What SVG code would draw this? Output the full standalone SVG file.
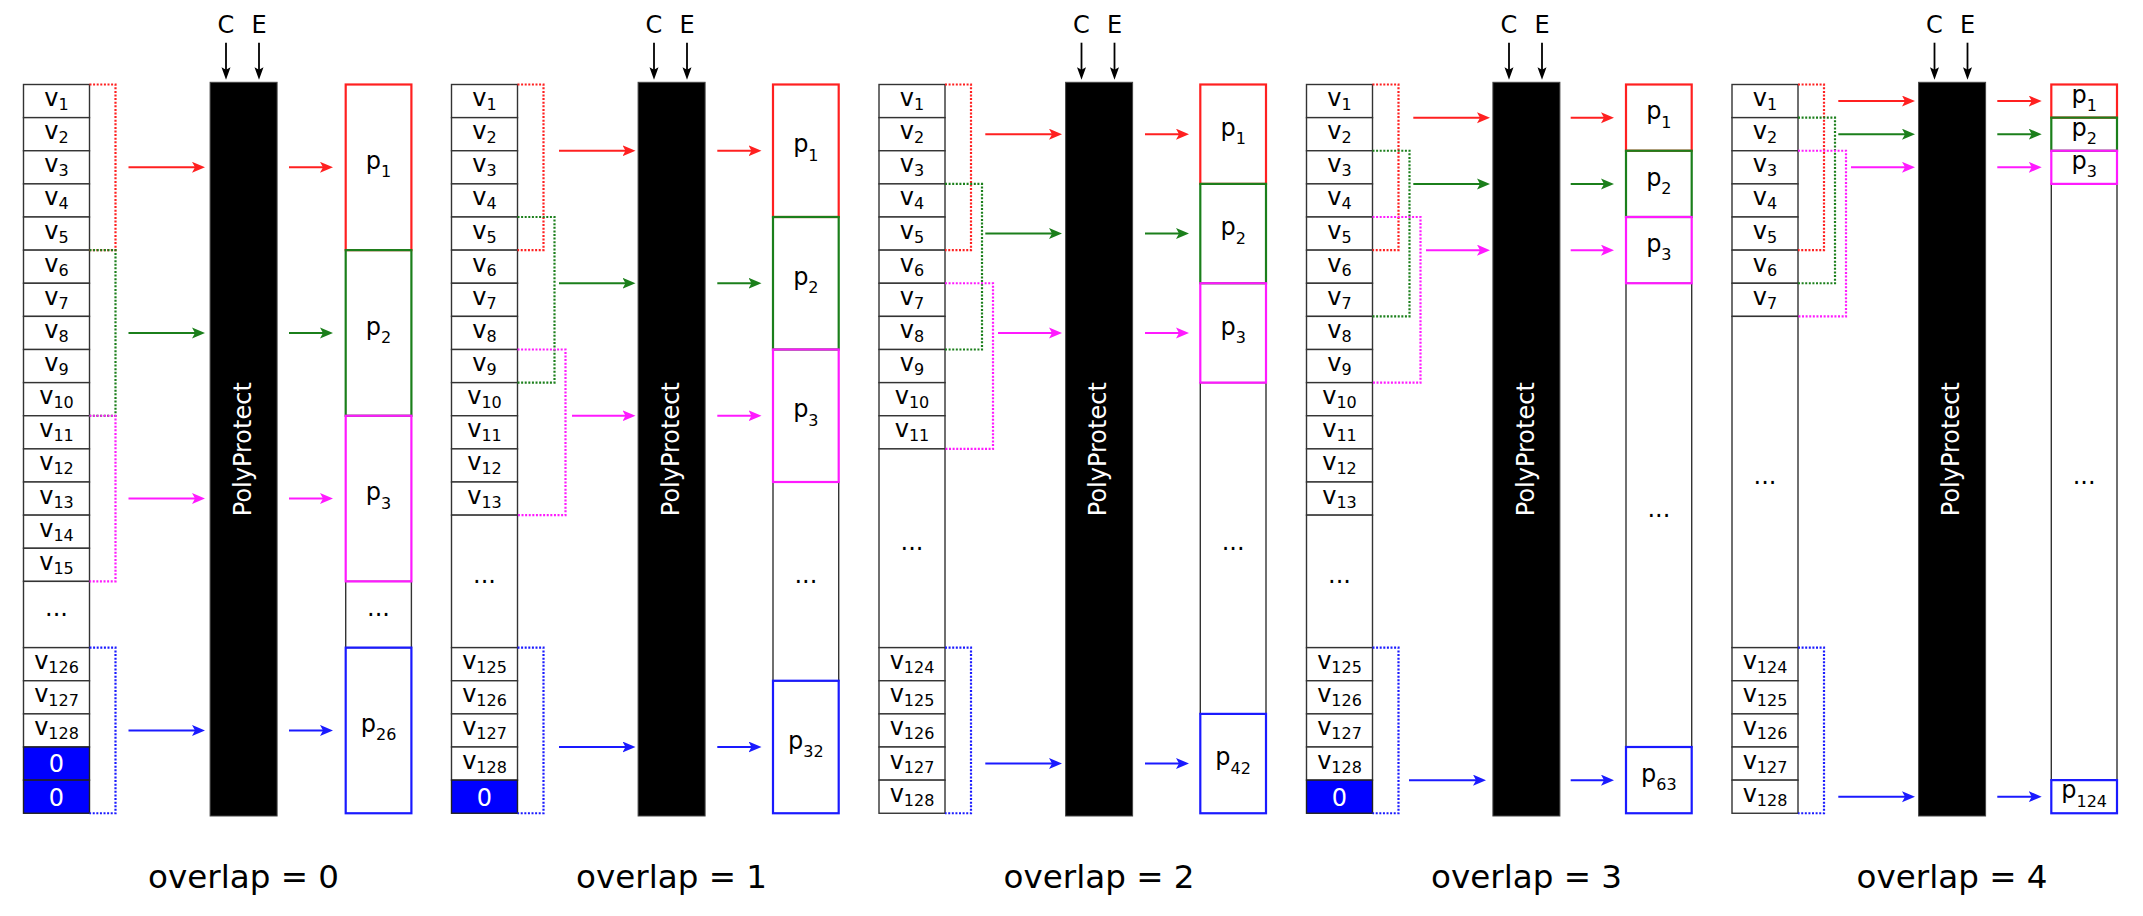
<svg xmlns="http://www.w3.org/2000/svg" width="2143" height="916" viewBox="0 0 2143 916">
<style>
text{font-family:"DejaVu Sans","Liberation Sans",sans-serif}
.c{fill:#fff;stroke:#333;stroke-width:1.4}
.z{fill:#0000ff;stroke:#222;stroke-width:1.4}
.l{font-size:24px;text-anchor:middle;fill:#000}
.zt{font-size:24px;text-anchor:middle;fill:#fff}
.s{font-size:16px}
.bar{fill:#000;stroke:#444;stroke-width:1}
.bt{font-size:24px;text-anchor:middle;fill:#fff}
.t{font-size:32px;text-anchor:middle;fill:#000}
.pr{fill:none;stroke:#ff2020;stroke-width:2.2}
.pg{fill:none;stroke:#1b7f1b;stroke-width:2.2}
.pm{fill:none;stroke:#ff1aff;stroke-width:2.2}
.pb{fill:none;stroke:#1a1aff;stroke-width:2.2}
.pd{fill:#fff;stroke:#333;stroke-width:1.4}
.d{fill:none;stroke-width:2.2;stroke-dasharray:2 1.6}
.a{fill:none;stroke-width:2}
.k{fill:none;stroke:#000;stroke-width:1.8}
.R{stroke:#ff2020}.G{stroke:#1b7f1b}.M{stroke:#ff1aff}.B{stroke:#1a1aff}
</style>
<defs>
<marker id="mr" markerUnits="userSpaceOnUse" markerWidth="14" markerHeight="12" refX="7" refY="5.5" orient="auto"><path d="M0,0 L13,5.5 L0,11 L3,5.5 z" fill="#ff2020"/></marker>
<marker id="mg" markerUnits="userSpaceOnUse" markerWidth="14" markerHeight="12" refX="7" refY="5.5" orient="auto"><path d="M0,0 L13,5.5 L0,11 L3,5.5 z" fill="#1b7f1b"/></marker>
<marker id="mm" markerUnits="userSpaceOnUse" markerWidth="14" markerHeight="12" refX="7" refY="5.5" orient="auto"><path d="M0,0 L13,5.5 L0,11 L3,5.5 z" fill="#ff1aff"/></marker>
<marker id="mb" markerUnits="userSpaceOnUse" markerWidth="14" markerHeight="12" refX="7" refY="5.5" orient="auto"><path d="M0,0 L13,5.5 L0,11 L3,5.5 z" fill="#1a1aff"/></marker>
<marker id="mk" markerUnits="userSpaceOnUse" markerWidth="13" markerHeight="10" refX="6" refY="4.5" orient="auto"><path d="M0,0 L12.5,4.5 L0,9 L2.5,4.5 z" fill="#000"/></marker>
</defs>
<rect width="2143" height="916" fill="#fff"/>

<!-- ================= PANEL 0 ================= -->
<g id="panel0" transform="translate(23.5,84.5)">
<g id="p0-v1"><rect class="c" x="0" y="0" width="66" height="33.13"/><text class="l" x="33" y="21.6">v<tspan class="s" dy="4">1</tspan></text></g>
<g id="p0-v2"><rect class="c" x="0" y="33.13" width="66" height="33.13"/><text class="l" x="33" y="54.73">v<tspan class="s" dy="4">2</tspan></text></g>
<g id="p0-v3"><rect class="c" x="0" y="66.25" width="66" height="33.13"/><text class="l" x="33" y="87.85">v<tspan class="s" dy="4">3</tspan></text></g>
<g id="p0-v4"><rect class="c" x="0" y="99.38" width="66" height="33.13"/><text class="l" x="33" y="120.98">v<tspan class="s" dy="4">4</tspan></text></g>
<g id="p0-v5"><rect class="c" x="0" y="132.5" width="66" height="33.13"/><text class="l" x="33" y="154.1">v<tspan class="s" dy="4">5</tspan></text></g>
<g id="p0-v6"><rect class="c" x="0" y="165.63" width="66" height="33.13"/><text class="l" x="33" y="187.23">v<tspan class="s" dy="4">6</tspan></text></g>
<g id="p0-v7"><rect class="c" x="0" y="198.75" width="66" height="33.13"/><text class="l" x="33" y="220.35">v<tspan class="s" dy="4">7</tspan></text></g>
<g id="p0-v8"><rect class="c" x="0" y="231.88" width="66" height="33.13"/><text class="l" x="33" y="253.48">v<tspan class="s" dy="4">8</tspan></text></g>
<g id="p0-v9"><rect class="c" x="0" y="265" width="66" height="33.13"/><text class="l" x="33" y="286.6">v<tspan class="s" dy="4">9</tspan></text></g>
<g id="p0-v10"><rect class="c" x="0" y="298.13" width="66" height="33.13"/><text class="l" x="33" y="319.73">v<tspan class="s" dy="4">10</tspan></text></g>
<g id="p0-v11"><rect class="c" x="0" y="331.25" width="66" height="33.13"/><text class="l" x="33" y="352.85">v<tspan class="s" dy="4">11</tspan></text></g>
<g id="p0-v12"><rect class="c" x="0" y="364.38" width="66" height="33.13"/><text class="l" x="33" y="385.98">v<tspan class="s" dy="4">12</tspan></text></g>
<g id="p0-v13"><rect class="c" x="0" y="397.5" width="66" height="33.13"/><text class="l" x="33" y="419.1">v<tspan class="s" dy="4">13</tspan></text></g>
<g id="p0-v14"><rect class="c" x="0" y="430.63" width="66" height="33.13"/><text class="l" x="33" y="452.23">v<tspan class="s" dy="4">14</tspan></text></g>
<g id="p0-v15"><rect class="c" x="0" y="463.75" width="66" height="33.13"/><text class="l" x="33" y="485.35">v<tspan class="s" dy="4">15</tspan></text></g>
<g id="p0-vdots"><rect class="c" x="0" y="496.88" width="66" height="66.25"/><text class="l" x="33" y="531.5">...</text></g>
<g id="p0-v126"><rect class="c" x="0" y="563.13" width="66" height="33.13"/><text class="l" x="33" y="584.73">v<tspan class="s" dy="4">126</tspan></text></g>
<g id="p0-v127"><rect class="c" x="0" y="596.25" width="66" height="33.13"/><text class="l" x="33" y="617.85">v<tspan class="s" dy="4">127</tspan></text></g>
<g id="p0-v128"><rect class="c" x="0" y="629.38" width="66" height="33.13"/><text class="l" x="33" y="650.98">v<tspan class="s" dy="4">128</tspan></text></g>
<g id="p0-z1"><rect class="z" x="0" y="662.5" width="66" height="33.13"/><text class="zt" x="33" y="687.9">0</text></g>
<g id="p0-z2"><rect class="z" x="0" y="695.63" width="66" height="33.13"/><text class="zt" x="33" y="721.03">0</text></g>
<g id="p0-bar"><rect class="bar" x="186.6" y="-2.2" width="67" height="733.7"/><text class="bt" transform="translate(227.4,364.7) rotate(-90)">PolyProtect</text></g>
<g id="p0-C"><text class="l" x="202.5" y="-51.2">C</text></g>
<g id="p0-E"><text class="l" x="235.5" y="-51.2">E</text></g>
<g id="p0-pdots"><rect class="pd" x="322.2" y="496.88" width="65.7" height="66.25"/><text class="l" x="355.05" y="531.5">...</text></g>
<g id="p0-p1"><rect class="pr" x="322.2" y="0" width="65.7" height="165.63"/><text class="l" x="355.05" y="84.4">p<tspan class="s" dy="8.4">1</tspan></text></g>
<g id="p0-p2"><rect class="pg" x="322.2" y="165.63" width="65.7" height="165.63"/><text class="l" x="355.05" y="250">p<tspan class="s" dy="8.4">2</tspan></text></g>
<g id="p0-p3"><rect class="pm" x="322.2" y="331.25" width="65.7" height="165.63"/><text class="l" x="355.05" y="415.7">p<tspan class="s" dy="8.4">3</tspan></text></g>
<g id="p0-p26"><rect class="pb" x="322.2" y="563.13" width="65.7" height="165.63"/><text class="l" x="355.05" y="647.5">p<tspan class="s" dy="8.4">26</tspan></text></g>
<g id="p0-title"><text class="t" x="220.1" y="803.5" textLength="191" lengthAdjust="spacingAndGlyphs">overlap = 0</text></g>
</g>

<!-- ================= PANEL 1 ================= -->
<g id="panel1" transform="translate(451.5,84.5)">
<g id="p1-v1"><rect class="c" x="0" y="0" width="66" height="33.13"/><text class="l" x="33" y="21.6">v<tspan class="s" dy="4">1</tspan></text></g>
<g id="p1-v2"><rect class="c" x="0" y="33.13" width="66" height="33.13"/><text class="l" x="33" y="54.73">v<tspan class="s" dy="4">2</tspan></text></g>
<g id="p1-v3"><rect class="c" x="0" y="66.25" width="66" height="33.13"/><text class="l" x="33" y="87.85">v<tspan class="s" dy="4">3</tspan></text></g>
<g id="p1-v4"><rect class="c" x="0" y="99.38" width="66" height="33.13"/><text class="l" x="33" y="120.98">v<tspan class="s" dy="4">4</tspan></text></g>
<g id="p1-v5"><rect class="c" x="0" y="132.5" width="66" height="33.13"/><text class="l" x="33" y="154.1">v<tspan class="s" dy="4">5</tspan></text></g>
<g id="p1-v6"><rect class="c" x="0" y="165.63" width="66" height="33.13"/><text class="l" x="33" y="187.23">v<tspan class="s" dy="4">6</tspan></text></g>
<g id="p1-v7"><rect class="c" x="0" y="198.75" width="66" height="33.13"/><text class="l" x="33" y="220.35">v<tspan class="s" dy="4">7</tspan></text></g>
<g id="p1-v8"><rect class="c" x="0" y="231.88" width="66" height="33.13"/><text class="l" x="33" y="253.48">v<tspan class="s" dy="4">8</tspan></text></g>
<g id="p1-v9"><rect class="c" x="0" y="265" width="66" height="33.13"/><text class="l" x="33" y="286.6">v<tspan class="s" dy="4">9</tspan></text></g>
<g id="p1-v10"><rect class="c" x="0" y="298.13" width="66" height="33.13"/><text class="l" x="33" y="319.73">v<tspan class="s" dy="4">10</tspan></text></g>
<g id="p1-v11"><rect class="c" x="0" y="331.25" width="66" height="33.13"/><text class="l" x="33" y="352.85">v<tspan class="s" dy="4">11</tspan></text></g>
<g id="p1-v12"><rect class="c" x="0" y="364.38" width="66" height="33.13"/><text class="l" x="33" y="385.98">v<tspan class="s" dy="4">12</tspan></text></g>
<g id="p1-v13"><rect class="c" x="0" y="397.5" width="66" height="33.13"/><text class="l" x="33" y="419.1">v<tspan class="s" dy="4">13</tspan></text></g>
<g id="p1-vdots"><rect class="c" x="0" y="430.63" width="66" height="132.5"/><text class="l" x="33" y="498.4">...</text></g>
<g id="p1-v125"><rect class="c" x="0" y="563.13" width="66" height="33.13"/><text class="l" x="33" y="584.73">v<tspan class="s" dy="4">125</tspan></text></g>
<g id="p1-v126"><rect class="c" x="0" y="596.25" width="66" height="33.13"/><text class="l" x="33" y="617.85">v<tspan class="s" dy="4">126</tspan></text></g>
<g id="p1-v127"><rect class="c" x="0" y="629.38" width="66" height="33.13"/><text class="l" x="33" y="650.98">v<tspan class="s" dy="4">127</tspan></text></g>
<g id="p1-v128"><rect class="c" x="0" y="662.5" width="66" height="33.13"/><text class="l" x="33" y="684.1">v<tspan class="s" dy="4">128</tspan></text></g>
<g id="p1-z1"><rect class="z" x="0" y="695.63" width="66" height="33.13"/><text class="zt" x="33" y="721.03">0</text></g>
<g id="p1-bar"><rect class="bar" x="186.6" y="-2.2" width="67" height="733.7"/><text class="bt" transform="translate(227.4,364.7) rotate(-90)">PolyProtect</text></g>
<g id="p1-C"><text class="l" x="202.5" y="-51.2">C</text></g>
<g id="p1-E"><text class="l" x="235.5" y="-51.2">E</text></g>
<g id="p1-pdots"><rect class="pd" x="321.5" y="397.5" width="65.7" height="198.75"/><text class="l" x="354.35" y="498.4">...</text></g>
<g id="p1-p1"><rect class="pr" x="321.5" y="0" width="65.7" height="132.5"/><text class="l" x="354.35" y="67.85">p<tspan class="s" dy="8.4">1</tspan></text></g>
<g id="p1-p2"><rect class="pg" x="321.5" y="132.5" width="65.7" height="132.5"/><text class="l" x="354.35" y="200.35">p<tspan class="s" dy="8.4">2</tspan></text></g>
<g id="p1-p3"><rect class="pm" x="321.5" y="265" width="65.7" height="132.5"/><text class="l" x="354.35" y="332.85">p<tspan class="s" dy="8.4">3</tspan></text></g>
<g id="p1-p32"><rect class="pb" x="321.5" y="596.25" width="65.7" height="132.5"/><text class="l" x="354.35" y="664.1">p<tspan class="s" dy="8.4">32</tspan></text></g>
<g id="p1-title"><text class="t" x="220.1" y="803.5" textLength="191" lengthAdjust="spacingAndGlyphs">overlap = 1</text></g>
</g>

<!-- ================= PANEL 2 ================= -->
<g id="panel2" transform="translate(879,84.5)">
<g id="p2-v1"><rect class="c" x="0" y="0" width="66" height="33.13"/><text class="l" x="33" y="21.6">v<tspan class="s" dy="4">1</tspan></text></g>
<g id="p2-v2"><rect class="c" x="0" y="33.13" width="66" height="33.13"/><text class="l" x="33" y="54.73">v<tspan class="s" dy="4">2</tspan></text></g>
<g id="p2-v3"><rect class="c" x="0" y="66.25" width="66" height="33.13"/><text class="l" x="33" y="87.85">v<tspan class="s" dy="4">3</tspan></text></g>
<g id="p2-v4"><rect class="c" x="0" y="99.38" width="66" height="33.13"/><text class="l" x="33" y="120.98">v<tspan class="s" dy="4">4</tspan></text></g>
<g id="p2-v5"><rect class="c" x="0" y="132.5" width="66" height="33.13"/><text class="l" x="33" y="154.1">v<tspan class="s" dy="4">5</tspan></text></g>
<g id="p2-v6"><rect class="c" x="0" y="165.63" width="66" height="33.13"/><text class="l" x="33" y="187.23">v<tspan class="s" dy="4">6</tspan></text></g>
<g id="p2-v7"><rect class="c" x="0" y="198.75" width="66" height="33.13"/><text class="l" x="33" y="220.35">v<tspan class="s" dy="4">7</tspan></text></g>
<g id="p2-v8"><rect class="c" x="0" y="231.88" width="66" height="33.13"/><text class="l" x="33" y="253.48">v<tspan class="s" dy="4">8</tspan></text></g>
<g id="p2-v9"><rect class="c" x="0" y="265" width="66" height="33.13"/><text class="l" x="33" y="286.6">v<tspan class="s" dy="4">9</tspan></text></g>
<g id="p2-v10"><rect class="c" x="0" y="298.13" width="66" height="33.13"/><text class="l" x="33" y="319.73">v<tspan class="s" dy="4">10</tspan></text></g>
<g id="p2-v11"><rect class="c" x="0" y="331.25" width="66" height="33.13"/><text class="l" x="33" y="352.85">v<tspan class="s" dy="4">11</tspan></text></g>
<g id="p2-vdots"><rect class="c" x="0" y="364.38" width="66" height="198.75"/><text class="l" x="33" y="465.3">...</text></g>
<g id="p2-v124"><rect class="c" x="0" y="563.13" width="66" height="33.13"/><text class="l" x="33" y="584.73">v<tspan class="s" dy="4">124</tspan></text></g>
<g id="p2-v125"><rect class="c" x="0" y="596.25" width="66" height="33.13"/><text class="l" x="33" y="617.85">v<tspan class="s" dy="4">125</tspan></text></g>
<g id="p2-v126"><rect class="c" x="0" y="629.38" width="66" height="33.13"/><text class="l" x="33" y="650.98">v<tspan class="s" dy="4">126</tspan></text></g>
<g id="p2-v127"><rect class="c" x="0" y="662.5" width="66" height="33.13"/><text class="l" x="33" y="684.1">v<tspan class="s" dy="4">127</tspan></text></g>
<g id="p2-v128"><rect class="c" x="0" y="695.63" width="66" height="33.13"/><text class="l" x="33" y="717.23">v<tspan class="s" dy="4">128</tspan></text></g>
<g id="p2-bar"><rect class="bar" x="186.6" y="-2.2" width="67" height="733.7"/><text class="bt" transform="translate(227.4,364.7) rotate(-90)">PolyProtect</text></g>
<g id="p2-C"><text class="l" x="202.5" y="-51.2">C</text></g>
<g id="p2-E"><text class="l" x="235.5" y="-51.2">E</text></g>
<g id="p2-pdots"><rect class="pd" x="321.3" y="298.13" width="65.7" height="331.25"/><text class="l" x="354.15" y="465.3">...</text></g>
<g id="p2-p1"><rect class="pr" x="321.3" y="0" width="65.7" height="99.38"/><text class="l" x="354.15" y="51.3">p<tspan class="s" dy="8.4">1</tspan></text></g>
<g id="p2-p2"><rect class="pg" x="321.3" y="99.38" width="65.7" height="99.38"/><text class="l" x="354.15" y="150.7">p<tspan class="s" dy="8.4">2</tspan></text></g>
<g id="p2-p3"><rect class="pm" x="321.3" y="198.75" width="65.7" height="99.38"/><text class="l" x="354.15" y="250">p<tspan class="s" dy="8.4">3</tspan></text></g>
<g id="p2-p42"><rect class="pb" x="321.3" y="629.38" width="65.7" height="99.38"/><text class="l" x="354.15" y="680.7">p<tspan class="s" dy="8.4">42</tspan></text></g>
<g id="p2-title"><text class="t" x="220.1" y="803.5" textLength="191" lengthAdjust="spacingAndGlyphs">overlap = 2</text></g>
</g>

<!-- ================= PANEL 3 ================= -->
<g id="panel3" transform="translate(1306.5,84.5)">
<g id="p3-v1"><rect class="c" x="0" y="0" width="66" height="33.13"/><text class="l" x="33" y="21.6">v<tspan class="s" dy="4">1</tspan></text></g>
<g id="p3-v2"><rect class="c" x="0" y="33.13" width="66" height="33.13"/><text class="l" x="33" y="54.73">v<tspan class="s" dy="4">2</tspan></text></g>
<g id="p3-v3"><rect class="c" x="0" y="66.25" width="66" height="33.13"/><text class="l" x="33" y="87.85">v<tspan class="s" dy="4">3</tspan></text></g>
<g id="p3-v4"><rect class="c" x="0" y="99.38" width="66" height="33.13"/><text class="l" x="33" y="120.98">v<tspan class="s" dy="4">4</tspan></text></g>
<g id="p3-v5"><rect class="c" x="0" y="132.5" width="66" height="33.13"/><text class="l" x="33" y="154.1">v<tspan class="s" dy="4">5</tspan></text></g>
<g id="p3-v6"><rect class="c" x="0" y="165.63" width="66" height="33.13"/><text class="l" x="33" y="187.23">v<tspan class="s" dy="4">6</tspan></text></g>
<g id="p3-v7"><rect class="c" x="0" y="198.75" width="66" height="33.13"/><text class="l" x="33" y="220.35">v<tspan class="s" dy="4">7</tspan></text></g>
<g id="p3-v8"><rect class="c" x="0" y="231.88" width="66" height="33.13"/><text class="l" x="33" y="253.48">v<tspan class="s" dy="4">8</tspan></text></g>
<g id="p3-v9"><rect class="c" x="0" y="265" width="66" height="33.13"/><text class="l" x="33" y="286.6">v<tspan class="s" dy="4">9</tspan></text></g>
<g id="p3-v10"><rect class="c" x="0" y="298.13" width="66" height="33.13"/><text class="l" x="33" y="319.73">v<tspan class="s" dy="4">10</tspan></text></g>
<g id="p3-v11"><rect class="c" x="0" y="331.25" width="66" height="33.13"/><text class="l" x="33" y="352.85">v<tspan class="s" dy="4">11</tspan></text></g>
<g id="p3-v12"><rect class="c" x="0" y="364.38" width="66" height="33.13"/><text class="l" x="33" y="385.98">v<tspan class="s" dy="4">12</tspan></text></g>
<g id="p3-v13"><rect class="c" x="0" y="397.5" width="66" height="33.13"/><text class="l" x="33" y="419.1">v<tspan class="s" dy="4">13</tspan></text></g>
<g id="p3-vdots"><rect class="c" x="0" y="430.63" width="66" height="132.5"/><text class="l" x="33" y="498.4">...</text></g>
<g id="p3-v125"><rect class="c" x="0" y="563.13" width="66" height="33.13"/><text class="l" x="33" y="584.73">v<tspan class="s" dy="4">125</tspan></text></g>
<g id="p3-v126"><rect class="c" x="0" y="596.25" width="66" height="33.13"/><text class="l" x="33" y="617.85">v<tspan class="s" dy="4">126</tspan></text></g>
<g id="p3-v127"><rect class="c" x="0" y="629.38" width="66" height="33.13"/><text class="l" x="33" y="650.98">v<tspan class="s" dy="4">127</tspan></text></g>
<g id="p3-v128"><rect class="c" x="0" y="662.5" width="66" height="33.13"/><text class="l" x="33" y="684.1">v<tspan class="s" dy="4">128</tspan></text></g>
<g id="p3-z1"><rect class="z" x="0" y="695.63" width="66" height="33.13"/><text class="zt" x="33" y="721.03">0</text></g>
<g id="p3-bar"><rect class="bar" x="186.4" y="-2.2" width="67" height="733.7"/><text class="bt" transform="translate(227.2,364.7) rotate(-90)">PolyProtect</text></g>
<g id="p3-C"><text class="l" x="202.5" y="-51.2">C</text></g>
<g id="p3-E"><text class="l" x="235.5" y="-51.2">E</text></g>
<g id="p3-pdots"><rect class="pd" x="319.5" y="198.75" width="65.7" height="463.75"/><text class="l" x="352.35" y="432.2">...</text></g>
<g id="p3-p1"><rect class="pr" x="319.5" y="0" width="65.7" height="66.25"/><text class="l" x="352.35" y="34.7">p<tspan class="s" dy="8.4">1</tspan></text></g>
<g id="p3-p2"><rect class="pg" x="319.5" y="66.25" width="65.7" height="66.25"/><text class="l" x="352.35" y="101">p<tspan class="s" dy="8.4">2</tspan></text></g>
<g id="p3-p3"><rect class="pm" x="319.5" y="132.5" width="65.7" height="66.25"/><text class="l" x="352.35" y="167.2">p<tspan class="s" dy="8.4">3</tspan></text></g>
<g id="p3-p63"><rect class="pb" x="319.5" y="662.5" width="65.7" height="66.25"/><text class="l" x="352.35" y="697.2">p<tspan class="s" dy="8.4">63</tspan></text></g>
<g id="p3-title"><text class="t" x="220.1" y="803.5" textLength="191" lengthAdjust="spacingAndGlyphs">overlap = 3</text></g>
</g>

<!-- ================= PANEL 4 ================= -->
<g id="panel4" transform="translate(1732,84.5)">
<g id="p4-v1"><rect class="c" x="0" y="0" width="66" height="33.13"/><text class="l" x="33" y="21.6">v<tspan class="s" dy="4">1</tspan></text></g>
<g id="p4-v2"><rect class="c" x="0" y="33.13" width="66" height="33.13"/><text class="l" x="33" y="54.73">v<tspan class="s" dy="4">2</tspan></text></g>
<g id="p4-v3"><rect class="c" x="0" y="66.25" width="66" height="33.13"/><text class="l" x="33" y="87.85">v<tspan class="s" dy="4">3</tspan></text></g>
<g id="p4-v4"><rect class="c" x="0" y="99.38" width="66" height="33.13"/><text class="l" x="33" y="120.98">v<tspan class="s" dy="4">4</tspan></text></g>
<g id="p4-v5"><rect class="c" x="0" y="132.5" width="66" height="33.13"/><text class="l" x="33" y="154.1">v<tspan class="s" dy="4">5</tspan></text></g>
<g id="p4-v6"><rect class="c" x="0" y="165.63" width="66" height="33.13"/><text class="l" x="33" y="187.23">v<tspan class="s" dy="4">6</tspan></text></g>
<g id="p4-v7"><rect class="c" x="0" y="198.75" width="66" height="33.13"/><text class="l" x="33" y="220.35">v<tspan class="s" dy="4">7</tspan></text></g>
<g id="p4-vdots"><rect class="c" x="0" y="231.88" width="66" height="331.25"/><text class="l" x="33" y="399">...</text></g>
<g id="p4-v124"><rect class="c" x="0" y="563.13" width="66" height="33.13"/><text class="l" x="33" y="584.73">v<tspan class="s" dy="4">124</tspan></text></g>
<g id="p4-v125"><rect class="c" x="0" y="596.25" width="66" height="33.13"/><text class="l" x="33" y="617.85">v<tspan class="s" dy="4">125</tspan></text></g>
<g id="p4-v126"><rect class="c" x="0" y="629.38" width="66" height="33.13"/><text class="l" x="33" y="650.98">v<tspan class="s" dy="4">126</tspan></text></g>
<g id="p4-v127"><rect class="c" x="0" y="662.5" width="66" height="33.13"/><text class="l" x="33" y="684.1">v<tspan class="s" dy="4">127</tspan></text></g>
<g id="p4-v128"><rect class="c" x="0" y="695.63" width="66" height="33.13"/><text class="l" x="33" y="717.23">v<tspan class="s" dy="4">128</tspan></text></g>
<g id="p4-bar"><rect class="bar" x="186.6" y="-2.2" width="67" height="733.7"/><text class="bt" transform="translate(227.4,364.7) rotate(-90)">PolyProtect</text></g>
<g id="p4-C"><text class="l" x="202.5" y="-51.2">C</text></g>
<g id="p4-E"><text class="l" x="235.5" y="-51.2">E</text></g>
<g id="p4-pdots"><rect class="pd" x="319.3" y="99.38" width="65.7" height="596.25"/><text class="l" x="352.15" y="399">...</text></g>
<g id="p4-p1"><rect class="pr" x="319.3" y="0" width="65.7" height="33.13"/><text class="l" x="352.15" y="18.2">p<tspan class="s" dy="8.4">1</tspan></text></g>
<g id="p4-p2"><rect class="pg" x="319.3" y="33.13" width="65.7" height="33.13"/><text class="l" x="352.15" y="51.3">p<tspan class="s" dy="8.4">2</tspan></text></g>
<g id="p4-p3"><rect class="pm" x="319.3" y="66.25" width="65.7" height="33.13"/><text class="l" x="352.15" y="84.4">p<tspan class="s" dy="8.4">3</tspan></text></g>
<g id="p4-p124"><rect class="pb" x="319.3" y="695.63" width="65.7" height="33.13"/><text class="l" x="352.15" y="713.8">p<tspan class="s" dy="8.4">124</tspan></text></g>
<g id="p4-title"><text class="t" x="220.1" y="803.5" textLength="191" lengthAdjust="spacingAndGlyphs">overlap = 4</text></g>
</g>

<!-- ================= CONNECTORS ================= -->
<g id="connectors">
<g id="conn0" transform="translate(23.5,84.5)">
<path class="d R" d="M66,0 H92 V165.63 H66"/>
<path class="d G" d="M66,165.63 H92 V331.25 H66"/>
<path class="d M" d="M66,331.25 H92 V496.88 H66"/>
<path class="d B" d="M66,563.13 H92 V728.75 H66"/>
<line class="a R" x1="105" y1="82.81" x2="175.5" y2="82.81" marker-end="url(#mr)"/>
<line class="a G" x1="105" y1="248.44" x2="175.5" y2="248.44" marker-end="url(#mg)"/>
<line class="a M" x1="105" y1="414.06" x2="175.5" y2="414.06" marker-end="url(#mm)"/>
<line class="a B" x1="105" y1="645.94" x2="175.5" y2="645.94" marker-end="url(#mb)"/>
<line class="a R" x1="265.5" y1="82.81" x2="303.5" y2="82.81" marker-end="url(#mr)"/>
<line class="a G" x1="265.5" y1="248.44" x2="303.5" y2="248.44" marker-end="url(#mg)"/>
<line class="a M" x1="265.5" y1="414.06" x2="303.5" y2="414.06" marker-end="url(#mm)"/>
<line class="a B" x1="265.5" y1="645.94" x2="303.5" y2="645.94" marker-end="url(#mb)"/>
<line class="k" x1="202.5" y1="-41.8" x2="202.5" y2="-11.2" marker-end="url(#mk)"/>
<line class="k" x1="235.5" y1="-41.8" x2="235.5" y2="-11.2" marker-end="url(#mk)"/>
</g>
<g id="conn1" transform="translate(451.5,84.5)">
<path class="d R" d="M66,0 H92 V165.63 H66"/>
<path class="d G" d="M66,132.5 H103 V298.13 H66"/>
<path class="d M" d="M66,265 H114 V430.63 H66"/>
<path class="d B" d="M66,563.13 H92 V728.75 H66"/>
<line class="a R" x1="107.5" y1="66.25" x2="178" y2="66.25" marker-end="url(#mr)"/>
<line class="a G" x1="107.5" y1="198.75" x2="178" y2="198.75" marker-end="url(#mg)"/>
<line class="a M" x1="120.5" y1="331.25" x2="178" y2="331.25" marker-end="url(#mm)"/>
<line class="a B" x1="107.5" y1="662.5" x2="178" y2="662.5" marker-end="url(#mb)"/>
<line class="a R" x1="265.8" y1="66.25" x2="304" y2="66.25" marker-end="url(#mr)"/>
<line class="a G" x1="265.8" y1="198.75" x2="304" y2="198.75" marker-end="url(#mg)"/>
<line class="a M" x1="265.8" y1="331.25" x2="304" y2="331.25" marker-end="url(#mm)"/>
<line class="a B" x1="265.8" y1="662.5" x2="304" y2="662.5" marker-end="url(#mb)"/>
<line class="k" x1="202.5" y1="-41.8" x2="202.5" y2="-11.2" marker-end="url(#mk)"/>
<line class="k" x1="235.5" y1="-41.8" x2="235.5" y2="-11.2" marker-end="url(#mk)"/>
</g>
<g id="conn2" transform="translate(879,84.5)">
<path class="d R" d="M66,0 H92 V165.63 H66"/>
<path class="d G" d="M66,99.38 H103 V265 H66"/>
<path class="d M" d="M66,198.75 H114 V364.38 H66"/>
<path class="d B" d="M66,563.13 H92 V728.75 H66"/>
<line class="a R" x1="106.3" y1="49.69" x2="177" y2="49.69" marker-end="url(#mr)"/>
<line class="a G" x1="106.3" y1="149.06" x2="177" y2="149.06" marker-end="url(#mg)"/>
<line class="a M" x1="119" y1="248.44" x2="177" y2="248.44" marker-end="url(#mm)"/>
<line class="a B" x1="106.3" y1="679.06" x2="177" y2="679.06" marker-end="url(#mb)"/>
<line class="a R" x1="266" y1="49.69" x2="304" y2="49.69" marker-end="url(#mr)"/>
<line class="a G" x1="266" y1="149.06" x2="304" y2="149.06" marker-end="url(#mg)"/>
<line class="a M" x1="266" y1="248.44" x2="304" y2="248.44" marker-end="url(#mm)"/>
<line class="a B" x1="266" y1="679.06" x2="304" y2="679.06" marker-end="url(#mb)"/>
<line class="k" x1="202.5" y1="-41.8" x2="202.5" y2="-11.2" marker-end="url(#mk)"/>
<line class="k" x1="235.5" y1="-41.8" x2="235.5" y2="-11.2" marker-end="url(#mk)"/>
</g>
<g id="conn3" transform="translate(1306.5,84.5)">
<path class="d R" d="M66,0 H92 V165.63 H66"/>
<path class="d G" d="M66,66.25 H103 V231.88 H66"/>
<path class="d M" d="M66,132.5 H114 V298.13 H66"/>
<path class="d B" d="M66,563.13 H92 V728.75 H66"/>
<line class="a R" x1="106.8" y1="33.13" x2="177.5" y2="33.13" marker-end="url(#mr)"/>
<line class="a G" x1="106.8" y1="99.38" x2="177.5" y2="99.38" marker-end="url(#mg)"/>
<line class="a M" x1="119.5" y1="165.63" x2="177.5" y2="165.63" marker-end="url(#mm)"/>
<line class="a B" x1="102.5" y1="695.63" x2="173.5" y2="695.63" marker-end="url(#mb)"/>
<line class="a R" x1="264.2" y1="33.13" x2="301.5" y2="33.13" marker-end="url(#mr)"/>
<line class="a G" x1="264.2" y1="99.38" x2="301.5" y2="99.38" marker-end="url(#mg)"/>
<line class="a M" x1="264.2" y1="165.63" x2="301.5" y2="165.63" marker-end="url(#mm)"/>
<line class="a B" x1="264.2" y1="695.63" x2="301.5" y2="695.63" marker-end="url(#mb)"/>
<line class="k" x1="202.5" y1="-41.8" x2="202.5" y2="-11.2" marker-end="url(#mk)"/>
<line class="k" x1="235.5" y1="-41.8" x2="235.5" y2="-11.2" marker-end="url(#mk)"/>
</g>
<g id="conn4" transform="translate(1732,84.5)">
<path class="d R" d="M66,0 H92 V165.63 H66"/>
<path class="d G" d="M66,33.13 H103 V198.75 H66"/>
<path class="d M" d="M66,66.25 H114 V231.88 H66"/>
<path class="d B" d="M66,563.13 H92 V728.75 H66"/>
<line class="a R" x1="106.3" y1="16.56" x2="177" y2="16.56" marker-end="url(#mr)"/>
<line class="a G" x1="106.3" y1="49.69" x2="177" y2="49.69" marker-end="url(#mg)"/>
<line class="a M" x1="119" y1="82.81" x2="177" y2="82.81" marker-end="url(#mm)"/>
<line class="a B" x1="106.3" y1="712.19" x2="177" y2="712.19" marker-end="url(#mb)"/>
<line class="a R" x1="265.3" y1="16.56" x2="303.7" y2="16.56" marker-end="url(#mr)"/>
<line class="a G" x1="265.3" y1="49.69" x2="303.7" y2="49.69" marker-end="url(#mg)"/>
<line class="a M" x1="265.3" y1="82.81" x2="303.7" y2="82.81" marker-end="url(#mm)"/>
<line class="a B" x1="265.3" y1="712.19" x2="303.7" y2="712.19" marker-end="url(#mb)"/>
<line class="k" x1="202.5" y1="-41.8" x2="202.5" y2="-11.2" marker-end="url(#mk)"/>
<line class="k" x1="235.5" y1="-41.8" x2="235.5" y2="-11.2" marker-end="url(#mk)"/>
</g>
</g>
</svg>
